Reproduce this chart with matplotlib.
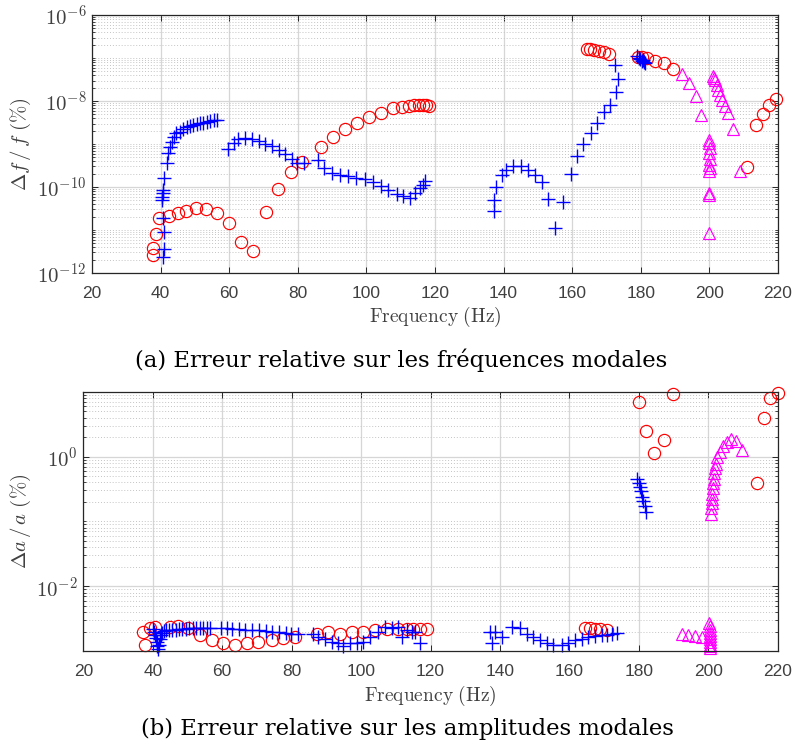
import numpy as np
import matplotlib
matplotlib.use('Agg')
import matplotlib.pyplot as plt
from matplotlib.ticker import FixedLocator, LogLocator, FuncFormatter, NullFormatter

plt.rcParams['mathtext.fontset'] = 'cm'
plt.rcParams['font.family'] = ['Liberation Sans', 'DejaVu Sans']

# values are log10 of the relative error

# (a) error on the modal frequencies
f_red_a = [37.7, 37.9, 38.7, 39.6, 42.5, 45.0, 47.4, 50.2, 53.2, 56.5, 59.9, 63.4, 67.0,
           70.6, 74.3, 78.0, 81.1, 86.9, 90.3, 93.8, 97.3, 100.8, 104.4, 107.8, 110.3,
           112.5, 114.0, 115.2, 116.4, 117.4, 118.2,
           164.3, 165.3, 166.5, 167.8, 169.3, 170.8,
           179.3, 180.3, 181.7, 184.1, 186.8, 189.5,
           211.1, 213.6, 215.5, 217.5, 219.4]
lg_red_a = [-11.58, -11.43, -11.10, -10.71, -10.67, -10.61, -10.55, -10.48, -10.51, -10.61, -10.84, -11.27, -11.49,
            -10.57, -10.05, -9.66, -9.41, -9.06, -8.83, -8.64, -8.50, -8.38, -8.27, -8.17, -8.13,
            -8.11, -8.10, -8.09, -8.09, -8.10, -8.11,
            -6.79, -6.80, -6.81, -6.83, -6.86, -6.91,
            -6.97, -6.98, -7.01, -7.06, -7.12, -7.26,
            -9.53, -8.56, -8.30, -8.09, -7.95]

f_blue_a = [40.8, 40.9, 41.1, 40.6, 40.5, 40.4, 40.6, 40.7, 41.1, 41.8, 42.2, 42.7, 43.2, 43.9,
            44.6, 45.6, 46.6, 47.6, 48.5, 49.5, 50.5, 51.5, 52.5, 53.5, 54.5, 55.5, 56.4,
            59.6, 61.3, 62.7, 64.7, 66.6, 68.6, 70.5, 72.5, 74.4, 76.4, 78.3, 79.8, 81.7,
            86.0, 87.5, 89.9, 92.3, 94.7, 97.1, 99.6, 102.0, 104.4, 106.4, 108.8, 110.8,
            112.7, 114.2, 115.6, 116.6, 117.1,
            137.2, 137.3, 137.9, 139.4, 140.8, 142.7, 145.2, 147.1, 149.1, 151.3, 153.0, 155.0,
            157.4, 159.6, 161.5, 163.2, 165.4, 167.3, 169.3, 171.0, 172.8, 173.5, 172.5,
            179.0, 179.5, 179.9, 180.3, 180.7, 181.0, 181.3]
lg_blue_a = [-11.62, -11.45, -11.04, -10.71, -10.30, -10.23, -10.15, -10.08, -9.80, -9.45, -9.22, -9.06, -8.95, -8.83,
             -8.75, -8.71, -8.66, -8.61, -8.59, -8.56, -8.54, -8.52, -8.50, -8.49, -8.47, -8.45, -8.43,
             -9.12, -8.98, -8.89, -8.87, -8.88, -8.92, -8.99, -9.05, -9.14, -9.24, -9.34, -9.43, -9.43,
             -9.37, -9.56, -9.67, -9.71, -9.74, -9.78, -9.81, -9.88, -9.97, -10.08, -10.16, -10.22,
             -10.26, -10.14, -10.03, -9.95, -9.87,
             -10.55, -10.30, -9.99, -9.72, -9.60, -9.52, -9.52, -9.60, -9.72, -9.89, -10.28, -10.96,
             -10.36, -9.69, -9.28, -8.99, -8.74, -8.52, -8.25, -8.09, -7.80, -7.49, -7.16,
             -6.96, -7.00, -7.03, -7.06, -7.04, -7.09, -7.12]

f_mag_a = [191.9, 194.1, 196.0, 197.7,
           200.0, 200.0, 200.1, 200.0, 200.1, 200.0, 200.1, 200.0, 200.0, 200.0, 200.0,
           201.1, 201.3, 201.6, 202.1, 202.6, 203.1, 203.6, 204.5, 205.5, 207.0, 208.9]
lg_mag_a = [-7.37, -7.58, -7.89, -8.33,
            -8.91, -8.98, -9.10, -9.22, -9.36, -9.49, -9.55, -9.62, -10.13, -10.19, -11.08,
            -7.42, -7.47, -7.51, -7.63, -7.74, -7.86, -7.98, -8.12, -8.29, -8.64, -9.62]

# (b) error on the modal amplitudes
f_red_b = [37.3, 37.8, 39.2, 40.6, 45.0, 47.4, 50.2, 53.6, 57.0, 60.3, 63.7, 67.1, 70.4, 74.3,
           77.6, 81.0, 87.2, 90.6, 93.9, 97.3, 100.6, 104.0, 107.4, 110.7, 113.1, 115.0, 116.9, 118.9,
           164.5, 165.9, 167.4, 168.8, 170.7,
           180.1, 182.0, 184.5, 187.1, 189.8,
           213.9, 216.0, 217.8, 220.0]
lg_red_b = [-2.70, -2.91, -2.65, -2.63, -2.63, -2.62, -2.65, -2.76, -2.83, -2.88, -2.91, -2.88, -2.86, -2.83,
            -2.80, -2.78, -2.73, -2.70, -2.73, -2.71, -2.70, -2.68, -2.66, -2.66, -2.66, -2.66, -2.66, -2.66,
            -2.65, -2.65, -2.66, -2.66, -2.67,
            0.84, 0.40, 0.05, 0.25, 0.96,
            -0.40, 0.59, 0.90, 0.98]

f_blue_b = [40.0, 40.3, 40.6, 40.9, 41.1, 41.3, 41.5, 41.8, 42.1, 42.4, 42.8, 43.3, 43.9, 44.6,
            45.6, 46.6, 47.6, 48.5, 49.5, 50.5, 51.5, 52.5, 53.5, 54.5, 55.5, 56.4,
            59.6, 61.3, 62.7, 64.7, 66.6, 68.6, 70.5, 72.5, 74.4, 76.4, 78.3, 79.8, 81.7,
            86.2, 87.7, 89.6, 91.5, 93.4, 94.9, 96.8, 98.7, 100.6, 102.6, 105.0, 106.9, 108.8,
            110.7, 111.7, 113.1, 114.6, 115.5, 117.0,
            137.1, 137.6, 138.6, 140.5, 143.4, 145.8, 147.7, 149.6, 151.5, 153.5, 155.4, 157.8,
            159.7, 161.6, 163.5, 165.4, 167.4, 169.3, 170.7, 172.2, 173.6,
            179.6, 179.9, 180.2, 180.5, 180.9, 181.3, 181.7, 182.1]
lg_blue_b = [-2.66, -2.70, -2.75, -2.80, -2.86, -2.92, -2.97, -2.90, -2.82, -2.76, -2.72, -2.69, -2.68, -2.67,
             -2.67, -2.67, -2.66, -2.66, -2.66, -2.65, -2.65, -2.65, -2.65, -2.65, -2.65, -2.65,
             -2.65, -2.65, -2.66, -2.66, -2.67, -2.67, -2.68, -2.69, -2.70, -2.71, -2.72, -2.73, -2.74,
             -2.73, -2.78, -2.81, -2.86, -2.88, -2.93, -2.88, -2.88, -2.86, -2.78, -2.71, -2.63, -2.65,
             -2.63, -2.78, -2.68, -2.71, -2.71, -2.88,
             -2.70, -2.88, -2.70, -2.78, -2.63, -2.65, -2.73, -2.78, -2.83, -2.88, -2.91, -2.91,
             -2.88, -2.83, -2.81, -2.78, -2.77, -2.76, -2.75, -2.74, -2.72,
             -0.34, -0.41, -0.47, -0.53, -0.62, -0.68, -0.77, -0.85]

f_mag_b = [192.3, 194.2, 196.2, 198.1,
           200.3, 200.4, 200.5, 200.5, 200.6, 200.5, 200.4, 200.5, 200.6, 200.5,
           200.8, 200.9, 201.0, 201.1, 201.2, 201.3, 201.4, 201.5, 201.7, 201.9, 202.2, 202.6,
           203.3, 204.2, 205.3, 206.6, 208.0, 209.6]
lg_mag_b = [-2.73, -2.76, -2.77, -2.78,
            -2.57, -2.62, -2.67, -2.72, -2.77, -2.82, -2.86, -2.90, -2.93, -2.95,
            -0.88, -0.80, -0.72, -0.65, -0.57, -0.49, -0.41, -0.34, -0.26, -0.18, -0.11, -0.01,
            0.07, 0.16, 0.23, 0.27, 0.24, 0.10]

xticks = [20, 40, 60, 80, 100, 120, 140, 160, 180, 200, 220]
grey = '#404040'


def pow_label(v, pos):
    return r'$\mathsf{10^{%d}}$' % int(round(np.log10(v)))


def style_axes(ax, ylim, yticks, ylabel, label_x):
    ax.set_yscale('log')
    ax.set_xlim(20, 220)
    ax.set_ylim(*ylim)
    ax.set_xticks(xticks)
    ax.yaxis.set_major_locator(FixedLocator(yticks))
    ax.yaxis.set_major_formatter(FuncFormatter(pow_label))
    ax.yaxis.set_minor_locator(LogLocator(base=10, subs=np.arange(1, 10), numticks=60))
    ax.yaxis.set_minor_formatter(NullFormatter())
    ax.set_axisbelow(True)
    ax.grid(True, which='major', color='#d6d6d6', lw=0.9, ls='-')
    ax.grid(True, which='minor', axis='y', color='#c4c4c4', lw=0.7, ls=(0, (1, 2)))
    ax.tick_params(which='both', direction='in', top=True, right=True, color='#262626')
    ax.tick_params(which='major', length=4, width=0.7)
    ax.tick_params(which='minor', length=2.5, width=0.6)
    ax.tick_params(axis='x', labelsize=12.5, labelcolor=grey, pad=9)
    ax.tick_params(axis='y', labelsize=15, labelcolor=grey, pad=4)
    for s in ax.spines.values():
        s.set_color('#262626')
        s.set_linewidth(0.9)
    ax.set_ylabel(ylabel, fontsize=15, color=grey)
    ax.yaxis.set_label_coords(label_x, 0.5)
    ax.set_xlabel(r'$\mathrm{Frequency\ (Hz)}$', fontsize=14, color=grey)
    ax.xaxis.set_label_coords(0.5, -0.125)


def draw(ax, fr, lr, fb, lb, fm, lm):
    ax.plot(fr, np.power(10.0, lr), ls='none', marker='o', ms=8.8, mfc='none',
            mec='#ff0000', mew=0.85, clip_on=False)
    ax.plot(fb, np.power(10.0, lb), ls='none', marker='+', ms=10, mec='#0000ff',
            mew=1.0, clip_on=False)
    ax.plot(fm, np.power(10.0, lm), ls='none', marker='^', ms=9, mfc='none',
            mec='#ff00ff', mew=0.85, clip_on=False)


fig = plt.figure(figsize=(7.95, 7.55), dpi=100)

ax1 = fig.add_axes([0.1157, 0.6384, 0.8629, 0.3417])
draw(ax1, f_red_a, lg_red_a, f_blue_a, lg_blue_a, f_mag_a, lg_mag_a)
style_axes(ax1, (1e-12, 1e-6), [1e-12, 1e-10, 1e-8, 1e-6],
           r'$\Delta f\,/\,f\ (\%)$', -0.086)

ax2 = fig.add_axes([0.1048, 0.1377, 0.8735, 0.3434])
draw(ax2, f_red_b, lg_red_b, f_blue_b, lg_blue_b, f_mag_b, lg_mag_b)
style_axes(ax2, (1e-3, 1e1), [1e-2, 1e0],
           r'$\Delta a\,/\,a\ (\%)$', -0.072)

fig.text(0.505, 1 - 367 / 755, '(a) Erreur relative sur les fréquences modales',
         ha='center', va='baseline', fontsize=16.4, family='DejaVu Serif', color='black')
fig.text(0.513, 1 - 735 / 755, '(b) Erreur relative sur les amplitudes modales',
         ha='center', va='baseline', fontsize=16.4, family='DejaVu Serif', color='black')

fig.savefig('out.png', dpi=100)
